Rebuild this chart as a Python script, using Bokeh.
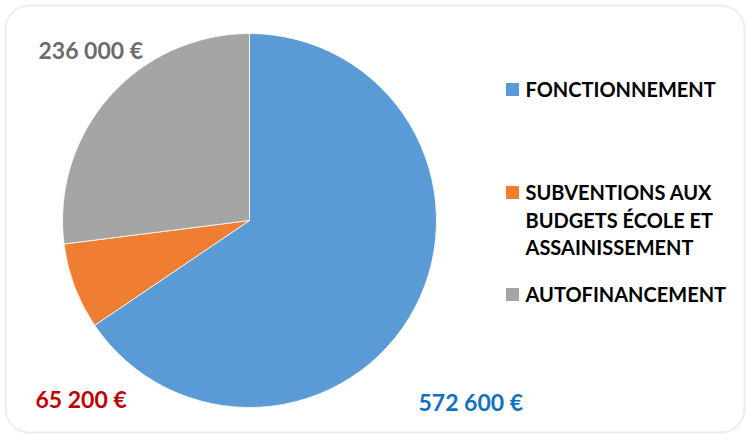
from bokeh.plotting import figure
from bokeh.models import Range1d, BoxAnnotation
from bokeh.core.properties import value
from bokeh.embed import file_html
from bokeh.resources import INLINE
import math

# ---- data ----
categories = ["FONCTIONNEMENT", "SUBVENTIONS AUX BUDGETS ÉCOLE ET ASSAINISSEMENT", "AUTOFINANCEMENT"]
legend_lines = [["FONCTIONNEMENT"], ["SUBVENTIONS AUX", "BUDGETS ÉCOLE ET", "ASSAINISSEMENT"], ["AUTOFINANCEMENT"]]
amounts = [572600, 65200, 236000]
colors = ["#5b9bd5", "#ef7d32", "#a5a5a5"]
label_colors = ["#0f6fc0", "#c00000", "#6b6b6b"]

W, H = 748, 434
FONT = "Lato"

p = figure(width=W, height=H, x_range=Range1d(0, W), y_range=Range1d(0, H),
           output_backend="svg", toolbar_location=None, min_border=0)
p.axis.visible = False
p.grid.visible = False
p.outline_line_color = None
p.background_fill_color = "white"
p.border_fill_color = "white"

# rounded frame
p.add_layout(BoxAnnotation(left=5, right=744, bottom=2, top=429, fill_color=None,
                           line_color="#c4c4c4", line_width=2, border_radius=24))

# pie
cx, cy, r = 249, 214, 187
total = float(sum(amounts))
start = math.pi / 2
starts, ends = [], []
for a in amounts:
    sweep = 2 * math.pi * a / total
    starts.append(start)
    ends.append(start - sweep)
    start -= sweep
p.wedge(x=[cx] * 3, y=[cy] * 3, radius=r, start_angle=starts, end_angle=ends,
        direction="clock", fill_color=colors, line_color="white", line_width=0.8)

# value labels
fmt = [f"{a:,}".replace(",", " ") + " €" for a in amounts]
lab_x = [418, 35, 38]
lab_y = [33, 36, 385]
p.text(x=lab_x, y=lab_y, text=fmt, text_color=label_colors, text_font=value(FONT),
       text_font_style="bold", text_font_size="23px", text_baseline="alphabetic")

# legend
sq_x = 512
sq_y = [345, 242, 140]
p.rect(x=[sq_x] * 3, y=sq_y, width=13, height=13, fill_color=colors, line_color=None)
tx, ty, tt = [], [], []
line_gap = 27.5
for i, lines in enumerate(legend_lines):
    for j, ln in enumerate(lines):
        tx.append(525)
        ty.append(sq_y[i] + 0.5 - j * line_gap)
        tt.append(ln)
p.text(x=tx, y=ty, text=tt, text_color="#000000", text_font=value(FONT),
       text_font_style="bold", text_font_size="20px", text_baseline="alphabetic")

open("out.html", "w").write(file_html(p, INLINE))
